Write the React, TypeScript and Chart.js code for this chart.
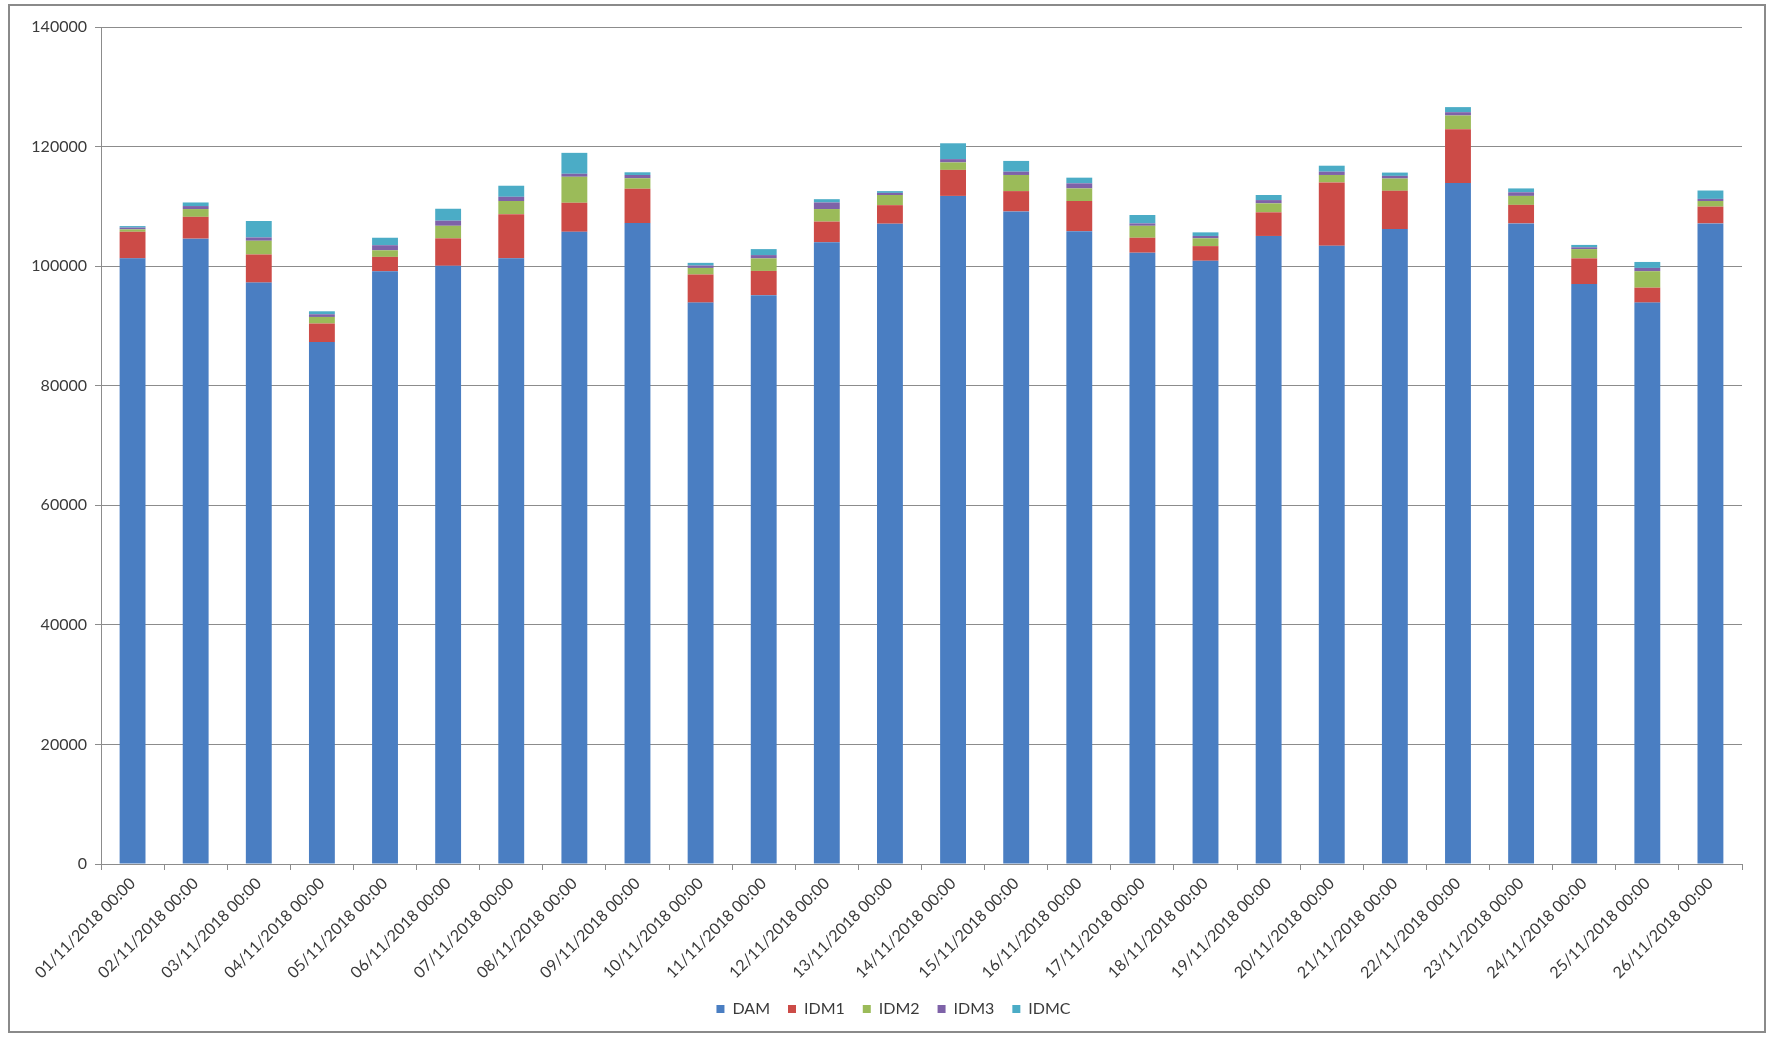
import React, { useEffect, useRef } from "react";
import { Chart, registerables } from "chart.js";

Chart.register(...registerables);

// Daily traded volume per market segment, November 2018
const dates = [
  "01/11/2018 00:00", "02/11/2018 00:00", "03/11/2018 00:00", "04/11/2018 00:00",
  "05/11/2018 00:00", "06/11/2018 00:00", "07/11/2018 00:00", "08/11/2018 00:00",
  "09/11/2018 00:00", "10/11/2018 00:00", "11/11/2018 00:00", "12/11/2018 00:00",
  "13/11/2018 00:00", "14/11/2018 00:00", "15/11/2018 00:00", "16/11/2018 00:00",
  "17/11/2018 00:00", "18/11/2018 00:00", "19/11/2018 00:00", "20/11/2018 00:00",
  "21/11/2018 00:00", "22/11/2018 00:00", "23/11/2018 00:00", "24/11/2018 00:00",
  "25/11/2018 00:00", "26/11/2018 00:00",
];

const DAM = [
  101300, 104600, 97250, 87300, 99150, 100050, 101300, 105750, 107200, 93900,
  95150, 104000, 107100, 111750, 109150, 105850, 102250, 100900, 105050, 103400,
  106200, 113900, 107150, 97000, 93900, 107150,
];
const IDM1 = [
  4450, 3650, 4700, 3100, 2400, 4600, 7400, 4850, 5750, 4700,
  4050, 3450, 3100, 4350, 3400, 5050, 2500, 2450, 3950, 10600,
  6400, 9000, 3100, 4300, 2500, 2800,
];
const IDM2 = [
  400, 1300, 2300, 1100, 1100, 2100, 2200, 4350, 1750, 1100,
  2100, 2100, 1700, 1250, 2700, 2100, 2000, 1300, 1500, 1250,
  2050, 2300, 1500, 1550, 2750, 950,
];
const IDM3 = [
  300, 500, 550, 450, 850, 850, 700, 500, 550, 400,
  550, 1100, 350, 550, 550, 850, 400, 400, 550, 550,
  450, 550, 600, 300, 550, 350,
];
const IDMC = [
  250, 600, 2750, 500, 1250, 2000, 1850, 3500, 450, 450,
  1000, 550, 300, 2650, 1800, 950, 1400, 600, 850, 1000,
  550, 850, 650, 400, 1000, 1400,
];

const yTicks = [0, 20000, 40000, 60000, 80000, 100000, 120000, 140000];

const seriesNames = ["DAM", "IDM1", "IDM2", "IDM3", "IDMC"];
const seriesColors = ["#4A7EC2", "#CC4B47", "#9BBB59", "#7E62A8", "#4BACC6"];

const W = 1771;
const H = 1037;
const FONT = "Lato, 'Liberation Sans', sans-serif";

// Nudges the bottom legend a little to the right of the canvas centre.
const legendOffset = {
  id: "legendOffset",
  afterLayout(chart: any) {
    if (chart.legend) {
      chart.legend.left += 45;
    }
  },
};

export default function App() {
  const canvasRef = useRef<HTMLCanvasElement | null>(null);

  useEffect(() => {
    const canvas = canvasRef.current;
    if (!canvas) return;
    const values = [DAM, IDM1, IDM2, IDM3, IDMC];

    const chart = new Chart(canvas, {
      type: "bar",
      data: {
        labels: dates,
        datasets: seriesNames.map((name, i) => ({
          label: name,
          data: values[i],
          backgroundColor: seriesColors[i],
          borderWidth: 0,
          categoryPercentage: 1,
          barPercentage: 0.41,
        })),
      },
      plugins: [legendOffset],
      options: {
        responsive: false,
        animation: false,
        devicePixelRatio: 1,
        layout: { padding: { top: 27, left: 0, right: 29, bottom: 10 } },
        plugins: {
          tooltip: { enabled: false },
          legend: {
            position: "bottom",
            labels: {
              boxWidth: 8,
              boxHeight: 8,
              padding: 18,
              color: "#3a3a3a",
              font: { family: FONT, size: 16 },
            },
          },
        },
        scales: {
          x: {
            stacked: true,
            afterFit: (scale: any) => {
              scale.height = 119;
            },
            grid: {
              display: true,
              drawOnChartArea: false,
              drawTicks: true,
              tickLength: 6,
              color: "#8c8c8c",
            },
            border: { display: true, color: "#8c8c8c", width: 1 },
            ticks: {
              autoSkip: false,
              minRotation: 45,
              maxRotation: 45,
              padding: 4,
              color: "#3a3a3a",
              font: { family: FONT, size: 16 },
            },
          },
          y: {
            stacked: true,
            min: 0,
            max: 140000,
            afterFit: (scale: any) => {
              scale.width = 101;
            },
            afterBuildTicks: (scale: any) => {
              scale.ticks = yTicks.map((v) => ({ value: v }));
            },
            grid: {
              color: "#8c8c8c",
              drawTicks: true,
              tickLength: 6,
            },
            border: { display: true, color: "#8c8c8c", width: 1 },
            ticks: {
              padding: 8,
              color: "#3a3a3a",
              font: { family: FONT, size: 16 },
              callback: (v: any) => String(v),
            },
          },
        },
      },
    });

    return () => chart.destroy();
  }, []);

  return (
    <div style={{ position: "fixed", left: 0, top: 0, width: W, height: H, background: "#ffffff" }}>
      <canvas
        ref={canvasRef}
        width={W}
        height={H}
        style={{ position: "absolute", left: 0, top: 0, width: W, height: H }}
      />
      <div
        style={{
          position: "absolute",
          left: 8,
          top: 4,
          width: 1758,
          height: 1029,
          border: "2px solid #8a8a8a",
          boxSizing: "border-box",
          pointerEvents: "none",
        }}
      />
    </div>
  );
}
